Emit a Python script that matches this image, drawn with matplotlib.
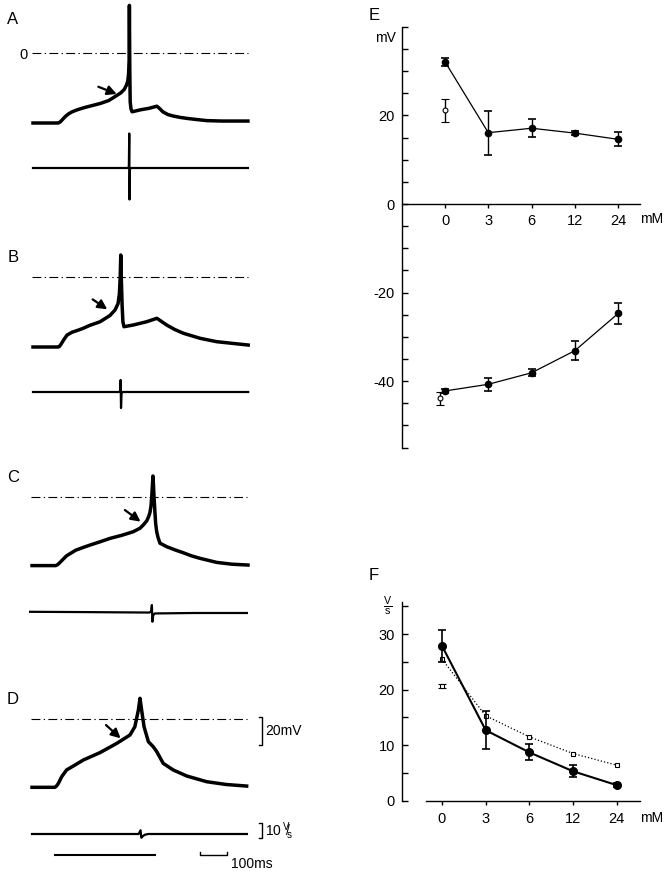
import matplotlib.pyplot as plt
import numpy as np
from matplotlib.ticker import MultipleLocator, FixedLocator

plt.rcParams['font.family'] = ['Liberation Sans', 'DejaVu Sans']
plt.rcParams['mathtext.default'] = 'regular'
plt.rcParams['axes.unicode_minus'] = False

# membrane potential traces A-D: time from sweep start (ms), potential (mV)
t_a = [0, 93, 97, 102, 108, 115, 123, 133, 145, 165, 190, 220, 250, 280, 305, 325, 338, 346, 351, 354, 356,
       357, 358.5, 360, 363, 367, 400, 430, 459, 468, 481, 500, 519, 545, 570, 605, 644, 700, 796]
v_a = [-50, -50, -49.7, -49, -47.8, -46.3, -44.8, -43.3, -42, -40.5, -39, -37.5, -36, -34, -31, -28.5, -26,
       -23, -20, -15, -5, 34, -12, -35, -40, -42, -40.5, -39.5, -38, -39.5, -42, -44, -45, -46, -46.7,
       -47.5, -48.3, -48.6, -48.6]

t_b = [0, 93, 97, 101, 107, 115, 126, 144, 167, 185, 211, 248, 285, 304, 315, 320, 323, 325, 327, 330, 333,
       337, 371, 420, 459, 495, 525, 557, 619, 680, 797]
v_b = [-50, -50, -49.7, -48.8, -47, -44.5, -41.5, -39.5, -38, -36.7, -34.5, -32, -27.5, -23.5, -19, -12, 0,
       15.7, 0, -20, -32, -35.5, -34.3, -32, -29.5, -34.3, -37.5, -40.2, -43.8, -46.2, -48.6]

t_c = [0, 88, 95, 105, 115, 128, 145, 162, 190, 220, 252, 290, 330, 375, 400, 412, 425, 432, 437, 441,
       444, 446.5, 448, 449.5, 452, 455, 458, 462, 467, 474, 499, 530, 560, 590, 622, 684, 740, 800]
v_c = [-49, -49, -48.3, -46.5, -44.5, -42, -40, -38, -36, -34, -32, -29.5, -27.5, -24.8, -22.3, -20, -17,
       -14, -11, -6, 2, 10, 15, 10, 0, -10, -19, -25, -29, -33, -35.5, -37.8, -39.8, -42, -43.8, -46.7, -48, -48.6]

t_d = [0, 85, 91, 98, 110, 128, 159, 190, 252, 314, 363, 381, 394, 400, 406, 415, 431, 449, 462, 486, 523,
       573, 647, 720, 795]
v_d = [-48.8, -48.8, -47.8, -45.9, -41.2, -36.4, -32.9, -29.3, -24, -17.4, -11.4, -5.5, 6.4, 14.8, 6.4, -5.5,
       -16.2, -19.8, -23.3, -31.7, -36.4, -40.7, -44.8, -46.8, -47.9]

# first derivative traces A-D (V/s)
td_a = [0, 352, 355, 356.5, 357.5, 359, 362, 796]
dv_a = [0, 0, 1, 23, -21, -1, 0, 0]
td_b = [0, 320, 323, 324.5, 326, 328, 331, 797]
dv_b = [0, 0, 1, 8, -10.7, -1, 0, 0]
td_c = [-7, 200, 435, 441, 444, 446, 449, 455, 600, 796]
dv_c = [0.8, 0.6, 0.3, 1, 5.3, -5.8, -1.5, -0.3, 0, 0]
td_d = [0, 395, 402, 405, 410, 418, 430, 796]
dv_d = [0, 0, 2.5, -2.5, -1.5, -0.5, 0, 0]

# summary vs. concentration (mM)
conc = ['0', '3', '6', '12', '24']
overshoot = [32.1, 16.1, 17.1, 16.0, 14.6]
overshoot_err = [0.9, 5.0, 2.0, 0.4, 1.6]
threshold = [-42.2, -40.7, -38.1, -33.1, -24.7]
threshold_err = [0.5, 1.5, 0.75, 2.1, 2.3]
ctrl_overshoot, ctrl_overshoot_err = 21.2, 2.6
ctrl_threshold, ctrl_threshold_err = -43.9, 1.5

dvdt_max = [27.9, 12.7, 8.7, 5.3, 2.8]
dvdt_max_err = [2.9, 3.4, 1.45, 1.1, 0.3]
dvdt_open = [25.5, 15.3, 11.5, 8.5, 6.4]
ctrl_dvdt, ctrl_dvdt_err = 20.7, 0.4

W, H = 667, 872
fig = plt.figure(figsize=(W / 100, H / 100), dpi=100)


def px_axes(left, top, right, bottom, x0, y0, sx, sy):
    # axes placed in pixel box, data origin (x0, y0) px, sx/sy px per data unit
    ax = fig.add_axes([left / W, 1 - bottom / H, (right - left) / W, (bottom - top) / H])
    ax.set_xlim((left - x0) / sx, (right - x0) / sx)
    ax.set_ylim((y0 - bottom) / sy, (y0 - top) / sy)
    ax.patch.set_visible(False)
    return ax


def ftext(x, y, s, **kw):
    fig.text(x / W, 1 - y / H, s, **kw)


MS_PX, MV_PX, VS_PX = 0.27, 1.4, 1.5
letters = ['A', 'B', 'C', 'D']
letter_y = [20, 258, 477, 700]
zero_px = [53, 277, 497, 719]
base_px = [168, 392, 613, 834]
org_px = [33, 33, 32, 32]
arrows = [((242, -24.1), (310, -29.3)), ((221, -16), (275, -23.1)),
          ((344, -9.3), (402, -17.6)), ((274, -4.3), (328, -13.8))]
volt = [(t_a, v_a), (t_b, v_b), (t_c, v_c), (t_d, v_d)]
deriv = [(td_a, dv_a), (td_b, dv_b), (td_c, dv_c), (td_d, dv_d)]

for i in range(4):
    axv = px_axes(0, zero_px[i] - 62, 340, zero_px[i] + 80, org_px[i], zero_px[i], MS_PX, MV_PX)
    axv.axis('off')
    axv.plot([-2, 798], [0, 0], color='k', lw=0.8, ls=(0, (8, 3, 1.2, 3)))
    axv.plot(volt[i][0], volt[i][1], color='k', lw=2.5, solid_joinstyle='round', clip_on=False)
    (tail, head) = arrows[i]
    axv.annotate('', xy=head, xytext=tail,
                 arrowprops=dict(arrowstyle='-|>,head_length=0.55,head_width=0.28', lw=1.6,
                                 color='k', shrinkA=0, shrinkB=0))
    axd = px_axes(0, base_px[i] - 40, 340, base_px[i] + 40, org_px[i], base_px[i], MS_PX, VS_PX)
    axd.axis('off')
    axd.plot(deriv[i][0], deriv[i][1], color='k', lw=1.6, solid_joinstyle='round', clip_on=False)
    ftext(13, letter_y[i], letters[i], fontsize=12, ha='center', va='center')
    if i == 0:
        ftext(23, 55, '0', fontsize=10.5, ha='center', va='center')
    if i == 3:
        # calibration bars
        xb = 852
        axv.plot([xb - 11, xb, xb, xb - 11], [1.4, 1.4, -18.6, -18.6], color='k', lw=1)
        axv.text(xb + 11, -8.6, '20mV', fontsize=10, ha='left', va='center')
        axd.plot([xb - 11, xb, xb, xb - 11], [7.3, 7.3, -2.7, -2.7], color='k', lw=1)
        axd.text(xb + 11, 2.3, r'10$\,^{V}\!\!/\!_{s}$', fontsize=10, ha='left', va='center')
        axd.plot([85, 455], [-14, -14], color='k', lw=1.5, clip_on=False)
        axd.plot([622, 622, 722, 722], [-12, -14, -14, -12], color='k', lw=1, clip_on=False)
        axd.text(737, -20, '100ms', fontsize=10, ha='left', va='center', clip_on=False)

x = np.arange(len(conc))

# E: overshoot and threshold
axE = px_axes(402, 204 - 40 * 4.43, 640, 204 + 55 * 4.43, 445, 204, 43.3, 4.43)
axE.errorbar(x, overshoot, yerr=overshoot_err, fmt='o-', color='k', ms=4.5, lw=0.9,
             elinewidth=1, capsize=3, capthick=1.2)
axE.errorbar(x, threshold, yerr=threshold_err, fmt='o-', color='k', ms=4.5, lw=0.9,
             elinewidth=1, capsize=3, capthick=1.2)
axE.errorbar(0, ctrl_overshoot, yerr=ctrl_overshoot_err, fmt='o', color='k', mfc='white',
             ms=3.5, mew=0.8, elinewidth=1, capsize=3, capthick=1.2)
axE.errorbar(-0.12, ctrl_threshold, yerr=ctrl_threshold_err, fmt='o', color='k', mfc='white',
             ms=3.5, mew=0.8, elinewidth=1, capsize=3, capthick=1.2)
axE.spines[['top', 'right']].set_visible(False)
axE.spines['bottom'].set_position(('data', 0))
for s in axE.spines.values():
    s.set_linewidth(1.0)
axE.yaxis.set_major_locator(FixedLocator([-40, -20, 0, 20]))
axE.yaxis.set_minor_locator(MultipleLocator(5))
axE.tick_params(axis='y', which='both', direction='in', length=4, width=1, labelsize=10.5, pad=5)
axE.set_xticks(x, conc)
axE.tick_params(axis='x', direction='out', length=3, width=1, labelsize=10.5, pad=4)
ftext(374, 15, 'E', fontsize=12, ha='center', va='center')
ftext(385, 38, 'mV', fontsize=10, ha='center', va='center')
ftext(652, 219, 'mM', fontsize=10, ha='center', va='center')

# F: maximum rate of rise
axF = px_axes(402, 800.7 - 35.8 * 5.55, 640, 800.7, 442, 800.7, 43.7, 5.55)
axF.plot(x, dvdt_open, ls=':', marker='s', color='k', mfc='white', ms=3.5, mew=0.8, lw=0.9)
axF.errorbar(x, dvdt_max, yerr=dvdt_max_err, fmt='o-', color='k', ms=5.5, lw=1.5,
             elinewidth=1.2, capsize=3, capthick=1.2)
axF.errorbar(0, ctrl_dvdt, yerr=ctrl_dvdt_err, fmt='s', color='k', mfc='white', ms=3.5, mew=0.8,
             elinewidth=1, capsize=3, capthick=1.2)
axF.spines[['top', 'right']].set_visible(False)
axF.spines['bottom'].set_bounds(-0.37, 4.53)
for s in axF.spines.values():
    s.set_linewidth(1.0)
axF.yaxis.set_major_locator(MultipleLocator(10))
axF.yaxis.set_minor_locator(MultipleLocator(5))
axF.tick_params(axis='y', which='both', direction='in', length=4, width=1, labelsize=10.5, pad=5)
axF.set_xticks(x, conc)
axF.tick_params(axis='x', direction='out', length=3, width=1, labelsize=10.5, pad=5)
ftext(374, 575, 'F', fontsize=12, ha='center', va='center')
ftext(388, 606, r'$\frac{V}{s}$', fontsize=11, ha='center', va='center')
ftext(652, 818, 'mM', fontsize=10, ha='center', va='center')

fig.savefig('out.png', dpi=100)
